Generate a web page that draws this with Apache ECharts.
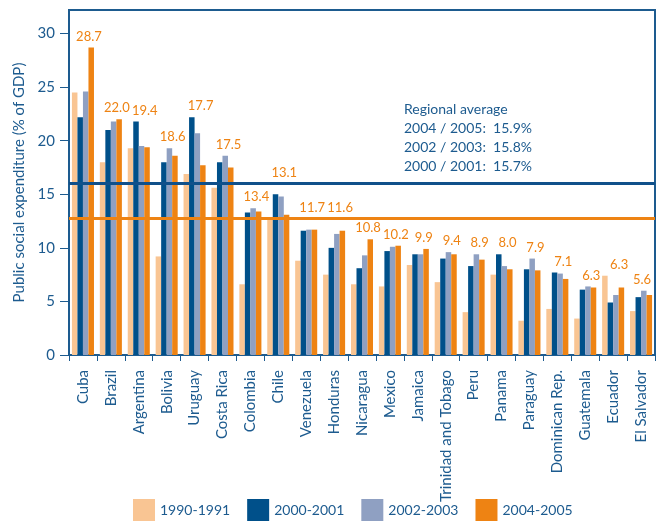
<!DOCTYPE html>
<html>
<head>
<meta charset="utf-8">
<script src="https://cdn.jsdelivr.net/npm/echarts@6/dist/echarts.min.js"></script>
<style>
  html, body { margin: 0; padding: 0; background: #fff; }
  #chart { width: 659px; height: 521px; }
</style>
</head>
<body>
<div id="chart"></div>
<script>
// data
const countries = ['Cuba', 'Brazil', 'Argentina', 'Bolivia', 'Uruguay', 'Costa Rica', 'Colombia', 'Chile',
  'Venezuela', 'Honduras', 'Nicaragua', 'Mexico', 'Jamaica', 'Trinidad and Tobago', 'Peru', 'Panama',
  'Paraguay', 'Dominican Rep.', 'Guatemala', 'Ecuador', 'El Salvador'];
const y1990 = [24.5, 18.0, 19.3, 9.2, 16.9, 15.6, 6.6, 12.7, 8.8, 7.5, 6.6, 6.4, 8.4, 6.8, 4.0, 7.5, 3.2, 4.3, 3.4, 7.4, 4.1];
const y2000 = [22.2, 21.0, 21.8, 18.0, 22.2, 18.0, 13.3, 15.0, 11.6, 10.0, 8.1, 9.7, 9.4, 9.0, 8.3, 9.4, 8.0, 7.7, 6.1, 4.9, 5.4];
const y2002 = [24.6, 21.8, 19.5, 19.3, 20.7, 18.6, 13.7, 14.8, 11.7, 11.3, 9.3, 10.1, 9.4, 9.6, 9.4, 8.3, 9.0, 7.6, 6.4, 5.6, 6.0];
const y2004 = [28.7, 22.0, 19.4, 18.6, 17.7, 17.5, 13.4, 13.1, 11.7, 11.6, 10.8, 10.2, 9.9, 9.4, 8.9, 8.0, 7.9, 7.1, 6.3, 6.3, 5.6];
const seriesNames = ['1990-1991', '2000-2001', '2002-2003', '2004-2005'];
const yTicks = [0, 5, 10, 15, 20, 25, 30];
const blueLine = 16.0;
const orangeLine = 12.75;
const noteLines = ['Regional average', '2004 / 2005:  15.9%', '2002 / 2003:  15.8%', '2000 / 2001:  15.7%'];

const colors = ['#f9c593', '#00508a', '#8fa0c2', '#ee8313'];
const blue = '#1d5b8f';
const font = 'Lato, "Open Sans", sans-serif';

const labelData = countries.map((c, i) => [i, Math.max(y1990[i], y2000[i], y2002[i], y2004[i]), y2004[i]]);

const chart = echarts.init(document.getElementById('chart'));

const barSeries = [y1990, y2000, y2002, y2004].map((d, k) => ({
  name: seriesNames[k],
  type: 'bar',
  data: d,
  barGap: '0%',
  barCategoryGap: '21%',
  itemStyle: { color: colors[k] },
  silent: true
}));

// reference lines go on the first series
barSeries[0].markLine = {
  silent: true,
  symbol: 'none',
  label: { show: false },
  z: 5,
  data: [
    { yAxis: blueLine, lineStyle: { color: '#10508a', width: 3, type: 'solid' } },
    { yAxis: orangeLine, lineStyle: { color: '#ee8313', width: 3, type: 'solid' } }
  ]
};

chart.setOption({
  animation: false,
  textStyle: { fontFamily: font },
  grid: {
    left: 69, right: 4, top: 10, bottom: 166,
    show: true, borderColor: blue, borderWidth: 2
  },
  legend: {
    data: seriesNames,
    bottom: 0,
    left: 133,
    padding: 0,
    itemWidth: 22,
    itemHeight: 22,
    itemGap: 17,
    icon: 'rect',
    textStyle: { color: blue, fontSize: 14, fontFamily: font }
  },
  xAxis: {
    type: 'category',
    data: countries,
    axisLine: { lineStyle: { color: blue, width: 2 } },
    axisTick: { show: true, length: 6, lineStyle: { color: blue } },
    axisLabel: { rotate: 90, color: blue, fontSize: 15, margin: 15, interval: 0 }
  },
  yAxis: {
    type: 'value',
    min: 0,
    max: 32.2,
    name: 'Public social expenditure (% of GDP)',
    nameLocation: 'middle',
    nameGap: 42,
    nameTextStyle: { color: blue, fontSize: 15 },
    axisLine: { show: true, lineStyle: { color: blue, width: 2 } },
    axisTick: { show: true, length: 9, lineStyle: { color: blue }, customValues: yTicks },
    axisLabel: { color: blue, fontSize: 15, margin: 14, customValues: yTicks },
    splitLine: { show: false }
  },
  graphic: noteLines.map((t, i) => ({
    type: 'text',
    left: 404,
    top: 102 + i * 19,
    style: { text: t, fill: blue, font: '14px ' + font }
  })),
  series: barSeries.concat([{
    type: 'custom',
    name: 'labels',
    data: labelData,
    z: 10,
    silent: true,
    renderItem: function (params, api) {
      const pt = api.coord([api.value(0), api.value(1)]);
      let y = pt[1] - 11;
      [blueLine, orangeLine].forEach(v => {
        const ly = api.coord([0, v])[1];
        if (Math.abs(y - ly) < 8) y = ly - 11;
      });
      // keep last label clear of the frame
      const cs = params.coordSys;
      const x = Math.min(pt[0] + 6, cs.x + cs.width - 13);
      return {
        type: 'text',
        x: x,
        y: y,
        style: {
          text: api.value(2).toFixed(1),
          fill: '#ee8313',
          font: '13px ' + font,
          align: 'center',
          verticalAlign: 'middle'
        }
      };
    }
  }])
});
</script>
</body>
</html>
